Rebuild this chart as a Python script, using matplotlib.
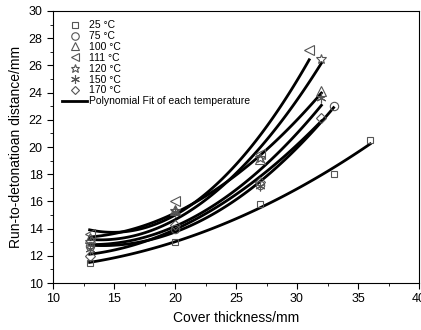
import matplotlib
matplotlib.use("Agg")
import matplotlib.pyplot as plt
from matplotlib.lines import Line2D
import numpy as np

plt.rcParams['font.family'] = ['Liberation Sans', 'DejaVu Sans']

# thickness (mm) and run-to-detonation distance (mm) for each temperature
temps = ["25 \u00b0C", "75 \u00b0C", "100 \u00b0C", "111 \u00b0C", "120 \u00b0C", "150 \u00b0C", "170 \u00b0C"]
x_25 = [13, 20, 27, 33, 36]
y_25 = [11.5, 13.0, 15.8, 18.0, 20.5]
x_75 = [13, 20, 27, 33]
y_75 = [12.7, 14.0, 17.2, 23.0]
x_100 = [13, 20, 27, 32]
y_100 = [13.3, 15.4, 19.1, 24.1]
x_111 = [13, 20, 27, 31]
y_111 = [13.6, 16.0, 19.5, 27.1]
x_120 = [13, 20, 27, 32]
y_120 = [13.0, 15.3, 19.2, 26.5]
x_150 = [13, 20, 27, 32]
y_150 = [12.5, 15.2, 17.1, 23.6]
x_170 = [13, 20, 27, 32]
y_170 = [12.0, 14.3, 17.4, 22.1]

xs = [x_25, x_75, x_100, x_111, x_120, x_150, x_170]
ys = [y_25, y_75, y_100, y_111, y_120, y_150, y_170]
markers = ['s', 'o', '^', '<', '*', (6, 2, 0), 'D']
sizes = [5, 6, 6.5, 6.5, 7, 7, 5]

fig = plt.figure(figsize=(4.21, 3.30), dpi=100)
ax = fig.add_axes([53 / 421, 1 - 283 / 330, 366 / 421, 272 / 330])

mcol = '#555555'
handles = []
for xv, yv, m, s, lab in zip(xs, ys, markers, sizes, temps):
    ax.plot(xv, yv, linestyle='none', marker=m, markersize=s, markerfacecolor='none',
            markeredgecolor=mcol, markeredgewidth=0.8, zorder=3)
    coef = np.polyfit(xv, yv, 2)
    xx = np.linspace(min(xv), max(xv), 100)
    ax.plot(xx, np.polyval(coef, xx), color='black', lw=2, zorder=2)
    handles.append(Line2D([], [], linestyle='none', marker=m, markersize=s * 0.9,
                          markerfacecolor='none', markeredgecolor=mcol,
                          markeredgewidth=0.8, label=lab))
handles.append(Line2D([], [], color='black', lw=2, label="Polynomial Fit of each temperature"))

ax.legend(handles=handles, loc='upper left', bbox_to_anchor=(0.0, 1.0), frameon=False,
          fontsize=7.5, handlelength=2.4, handletextpad=0.2, labelspacing=0.08,
          borderaxespad=0.5)

ax.set_xlim(10, 40)
ax.set_ylim(10, 30)
ax.set_xticks(np.arange(10, 41, 5))
ax.set_xticks(np.arange(12.5, 40, 5), minor=True)
ax.set_yticks(np.arange(10, 31, 2))
ax.set_yticks(np.arange(11, 30, 2), minor=True)
ax.tick_params(which='major', direction='out', length=4, labelsize=9)
ax.tick_params(which='minor', direction='out', length=2.5)
ax.set_xlabel("Cover thickness/mm", fontsize=10, labelpad=4)
ax.set_ylabel("Run-to-detonatioan distance/mm", fontsize=10, labelpad=4)

fig.savefig("out.png", dpi=100)
